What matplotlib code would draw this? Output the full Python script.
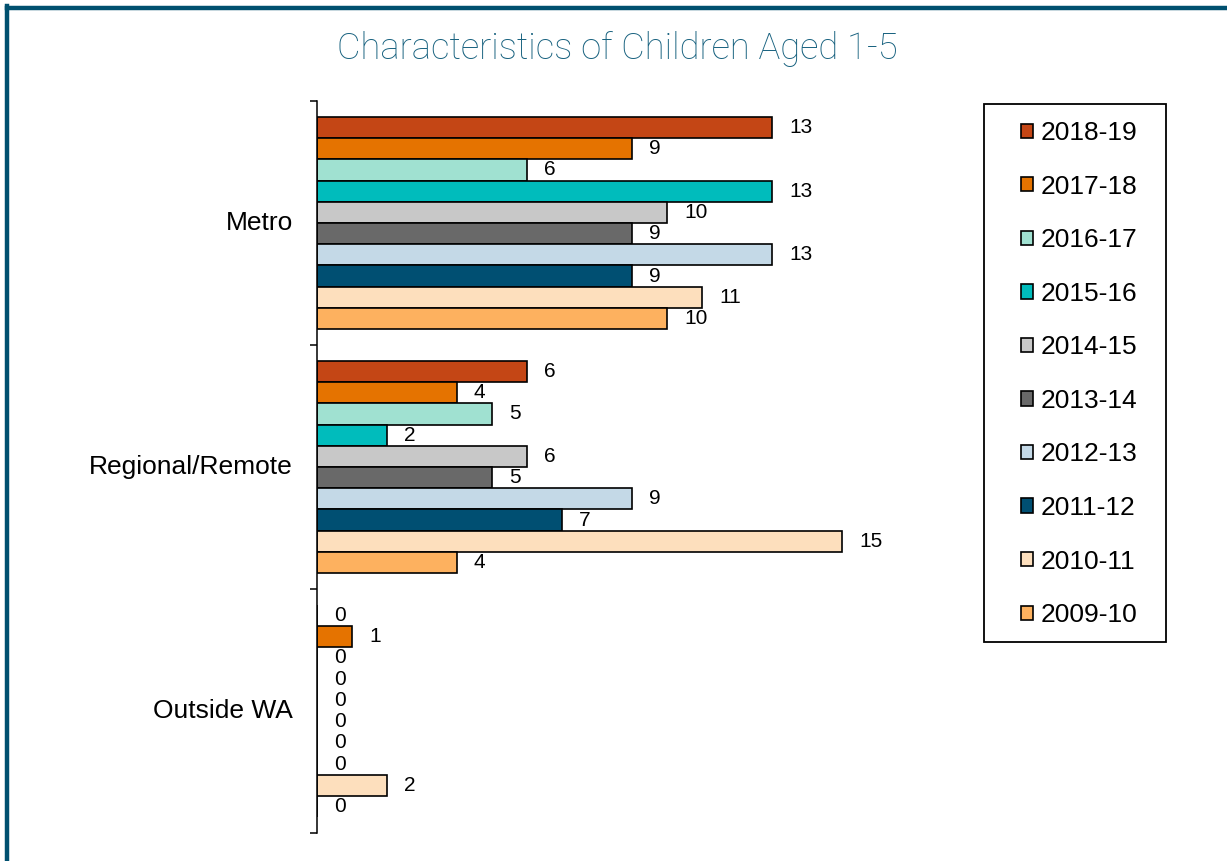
import matplotlib
matplotlib.use("Agg")
import matplotlib.pyplot as plt
import numpy as np
from matplotlib.patches import Patch, Rectangle
from matplotlib.lines import Line2D

# ------------------------------------------------------------
# Data
# ------------------------------------------------------------
regions = ["Metro", "Regional/Remote", "Outside WA"]
years = ["2018-19", "2017-18", "2016-17", "2015-16", "2014-15",
         "2013-14", "2012-13", "2011-12", "2010-11", "2009-10"]

metro = [13, 9, 6, 13, 10, 9, 13, 9, 11, 10]
regional = [6, 4, 5, 2, 6, 5, 9, 7, 15, 4]
outside_wa = [0, 1, 0, 0, 0, 0, 0, 0, 2, 0]

colours = ["#C44615", "#E57300", "#A0E1D1", "#00BCBC", "#C8C8C8",
           "#696969", "#C4D9E7", "#004F72", "#FDDFBD", "#FDB15F"]

# ------------------------------------------------------------
# Figure
# ------------------------------------------------------------
plt.rcParams["font.family"] = ["Liberation Sans", "DejaVu Sans"]

W, H = 1227, 861
fig = plt.figure(figsize=(W / 100, H / 100), dpi=100)

# axes placed in pixel terms
ax_left, ax_right = 317, 317 + 630
ax_top, ax_bottom = 101, 833
ax = fig.add_axes([ax_left / W, 1 - ax_bottom / H,
                   (ax_right - ax_left) / W, (ax_bottom - ax_top) / H])

values = np.array([metro, regional, outside_wa])  # region x year
n_years = len(years)
bar_h = 0.087
centres = np.arange(len(regions))

for j, (yr, col) in enumerate(zip(years, colours)):
    ypos = centres + (j - (n_years - 1) / 2) * bar_h
    vals = values[:, j]
    ax.barh(ypos, vals, height=bar_h, color=col, edgecolor="black",
            linewidth=1.2, label=yr)
    for y, v in zip(ypos, vals):
        ax.annotate(f"{v}", xy=(v, y), xytext=(12.2, 0),
                    textcoords="offset points", ha="left", va="center",
                    fontsize=15, color="black")

ax.set_xlim(0, 18)
ax.set_ylim(len(regions) - 0.5, -0.5)

# category axis: ticks sit on the group boundaries
ax.set_yticks(np.arange(len(regions) + 1) - 0.5)
ax.set_yticklabels([])
ax.tick_params(axis="y", direction="out", length=5, width=1.1, color="black")
for y, name in zip(centres, regions):
    ax.text(-24 / 35, y, name, ha="right", va="center", fontsize=19)

ax.set_xticks([])
for side in ["top", "right", "bottom"]:
    ax.spines[side].set_visible(False)
ax.spines["left"].set_linewidth(1.1)
ax.patch.set_alpha(0)

# title
fig.text(617 / W, 1 - 49 / H, "Characteristics of Children Aged 1-5",
         ha="center", va="center", fontsize=26.2, color="#17617F",
         family=["Roboto", "DejaVu Sans"], fontweight="light")

# legend with a square frame drawn separately
handles = [Patch(facecolor=c, edgecolor="black", linewidth=1.2) for c in colours]
leg_box = (984, 104, 1166, 642)
fig.patches.append(Rectangle((leg_box[0] / W, 1 - leg_box[3] / H),
                             (leg_box[2] - leg_box[0]) / W,
                             (leg_box[3] - leg_box[1]) / H,
                             transform=fig.transFigure, fill=False,
                             edgecolor="black", linewidth=1.3))
fig.legend(handles, years, loc="upper left",
           bbox_to_anchor=(1000 / W, 1 - 100 / H), frameon=False,
           fontsize=19, handlelength=0.46, handleheight=0.46,
           handletextpad=0.27, labelspacing=1.12, borderpad=0.3)

# page border along top and left
fig.add_artist(Line2D([7 / W, 1], [1 - 8 / H, 1 - 8 / H],
                      transform=fig.transFigure, color="#00506F", linewidth=3.2))
fig.add_artist(Line2D([7 / W, 7 / W], [0, 1 - 6 / H],
                      transform=fig.transFigure, color="#00506F", linewidth=3.2))

fig.savefig("out.png", dpi=100, facecolor="white")
